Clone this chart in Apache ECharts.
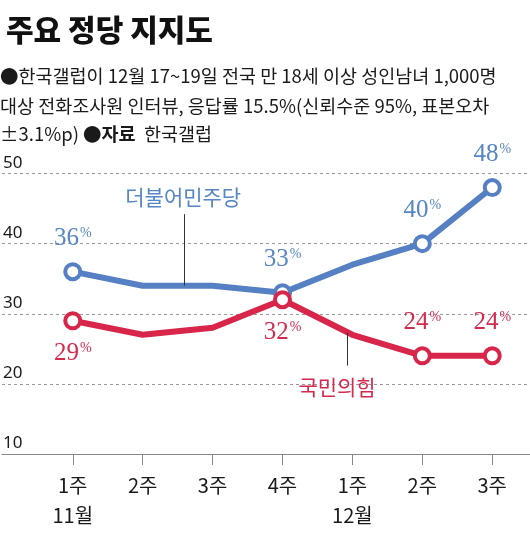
<!DOCTYPE html>
<html><head><meta charset="utf-8">
<script src="https://cdn.jsdelivr.net/npm/echarts@6/dist/echarts.min.js"></script>
<style>html,body{margin:0;padding:0;background:#fff}#c{width:530px;height:539px}</style>
</head><body><div id="c"></div>
<script>
const weekLabels = ['1주','2주','3주','4주','1주','2주','3주'];
const monthLabels = ['11월','','','','12월','',''];
const yTicks = [10,20,30,40,50];
const demValues = [36,34,34,33,37,40,48];
const pppValues = [29,27,28,32,27,24,24];
const demLabelIdx = [0,3,5,6];
const pppLabelIdx = [0,3,5,6];
const pppLabelPos = ['bottom','','','bottom','','top','top'];
const demName = '더불어민주당';
const pppName = '국민의힘';

const BLUE = '#5680c4', BLUE_T = '#5686c4';
const RED = '#d8254a', RED_T = '#d42a4e';
const KR = '"Noto Sans CJK KR","Noto Sans",sans-serif';
const SERIF = '"Liberation Serif","DejaVu Serif",serif';

function rich(col){
  return { n:{fontFamily:SERIF,fontSize:25,color:col}, p:{fontFamily:SERIF,fontSize:14,color:col,verticalAlign:'top',padding:[0,0,9,1]} };
}
function buildData(vals, idx, col, posArr, defPos){
  return vals.map((v,i)=>{
    const shown = idx.indexOf(i) >= 0;
    return {
      value:[i,v],
      symbol: shown ? 'circle' : 'none',
      label: shown ? {show:true, position: (posArr && posArr[i]) || defPos, distance: 11,
        formatter: '{n|'+v+'}{p|%}', rich: rich(col)} : {show:false}
    };
  });
}

const chart = echarts.init(document.getElementById('c'));
const baseOption = {
  animation:false,
  title:{ text:'주요 정당 지지도', left:1, top:10, textStyle:{fontFamily:KR,fontSize:30,fontWeight:900,color:'#111'} },
  grid:{left:0,right:0,top:173.5,bottom:85},
  xAxis:{
    type:'value', min:-1.012, max:6.54,
    axisLine:{show:true,lineStyle:{color:'#888',width:1}},
    axisTick:{show:true,customValues:[0,1,2,3,4,5,6],length:11,lineStyle:{color:'#888'}},
    splitLine:{show:false},
    axisLabel:{customValues:[0,1,2,3,4,5,6], margin:16, fontFamily:KR, fontSize:20, color:'#1a1a1a', lineHeight:30,
      formatter:v=>{const i=Math.round(v); return weekLabels[i] + (monthLabels[i] ? '\n'+monthLabels[i] : '');}}
  },
  yAxis:{
    type:'value', min:yTicks[0], max:yTicks[yTicks.length-1], interval:10,
    axisLine:{show:false}, axisTick:{show:false},
    splitLine:{show:true,lineStyle:{color:'#999',type:[3,3],width:1}},
    axisLabel:{inside:true, margin:1, verticalAlign:'bottom', padding:[0,0,2,0], fontFamily:'"Noto Sans",sans-serif', fontSize:17, color:'#1a1a1a'}
  },
  series:[
    {
      type:'line', name:demName, z:3,
      data: buildData(demValues, demLabelIdx, BLUE_T, null, 'top'),
      symbolSize:15,
      lineStyle:{color:BLUE,width:6},
      itemStyle:{color:'#fff',borderColor:BLUE,borderWidth:4},
      markLine:{silent:true, symbol:'none',
        lineStyle:{color:'#333',width:1,type:'solid'},
        label:{show:false},
        data:[[{coord:[1.6,34]},{coord:[1.6,44.2]}]]}
    },
    {
      type:'line', name:pppName, z:4,
      data: buildData(pppValues, pppLabelIdx, RED_T, pppLabelPos, 'top'),
      symbolSize:15,
      lineStyle:{color:RED,width:6},
      itemStyle:{color:'#fff',borderColor:RED,borderWidth:4},
      markLine:{silent:true, symbol:'none',
        lineStyle:{color:'#333',width:1,type:'solid'},
        label:{show:false},
        data:[[{coord:[3.93,27.3]},{coord:[3.93,22.6]}]]}
    }
  ]
};
chart.setOption(baseOption);

// annotation texts anchored through the chart's own coordinate system
const demTextAt = chart.convertToPixel({gridIndex:0}, [1.58, 46.7]);
const pppTextAt = chart.convertToPixel({gridIndex:0}, [3.78, 19.5]);
chart.setOption({
  graphic:[
    {type:'text', left:0, top:67, style:{text:'●한국갤럽이 12월 17~19일 전국 만 18세 이상 성인남녀 1,000명', font:'18.5px '+KR, fill:'#1a1a1a'}},
    {type:'text', left:0, top:97, style:{text:'대상 전화조사원 인터뷰, 응답률 15.5%(신뢰수준 95%, 표본오차', font:'18.5px '+KR, fill:'#1a1a1a'}},
    {type:'text', left:0, top:125, style:{text:'±3.1%p) {b|●자료}  한국갤럽', font:'18.5px '+KR, fill:'#1a1a1a', rich:{b:{font:'bold 18.5px '+KR, fill:'#1a1a1a'}}}},
    {type:'text', x:demTextAt[0], y:demTextAt[1], style:{text:demName, font:'21px '+KR, fill:BLUE_T, align:'center', verticalAlign:'middle'}},
    {type:'text', x:pppTextAt[0], y:pppTextAt[1], style:{text:pppName, font:'21px '+KR, fill:RED_T, align:'center', verticalAlign:'middle'}}
  ]
});
</script></body></html>
